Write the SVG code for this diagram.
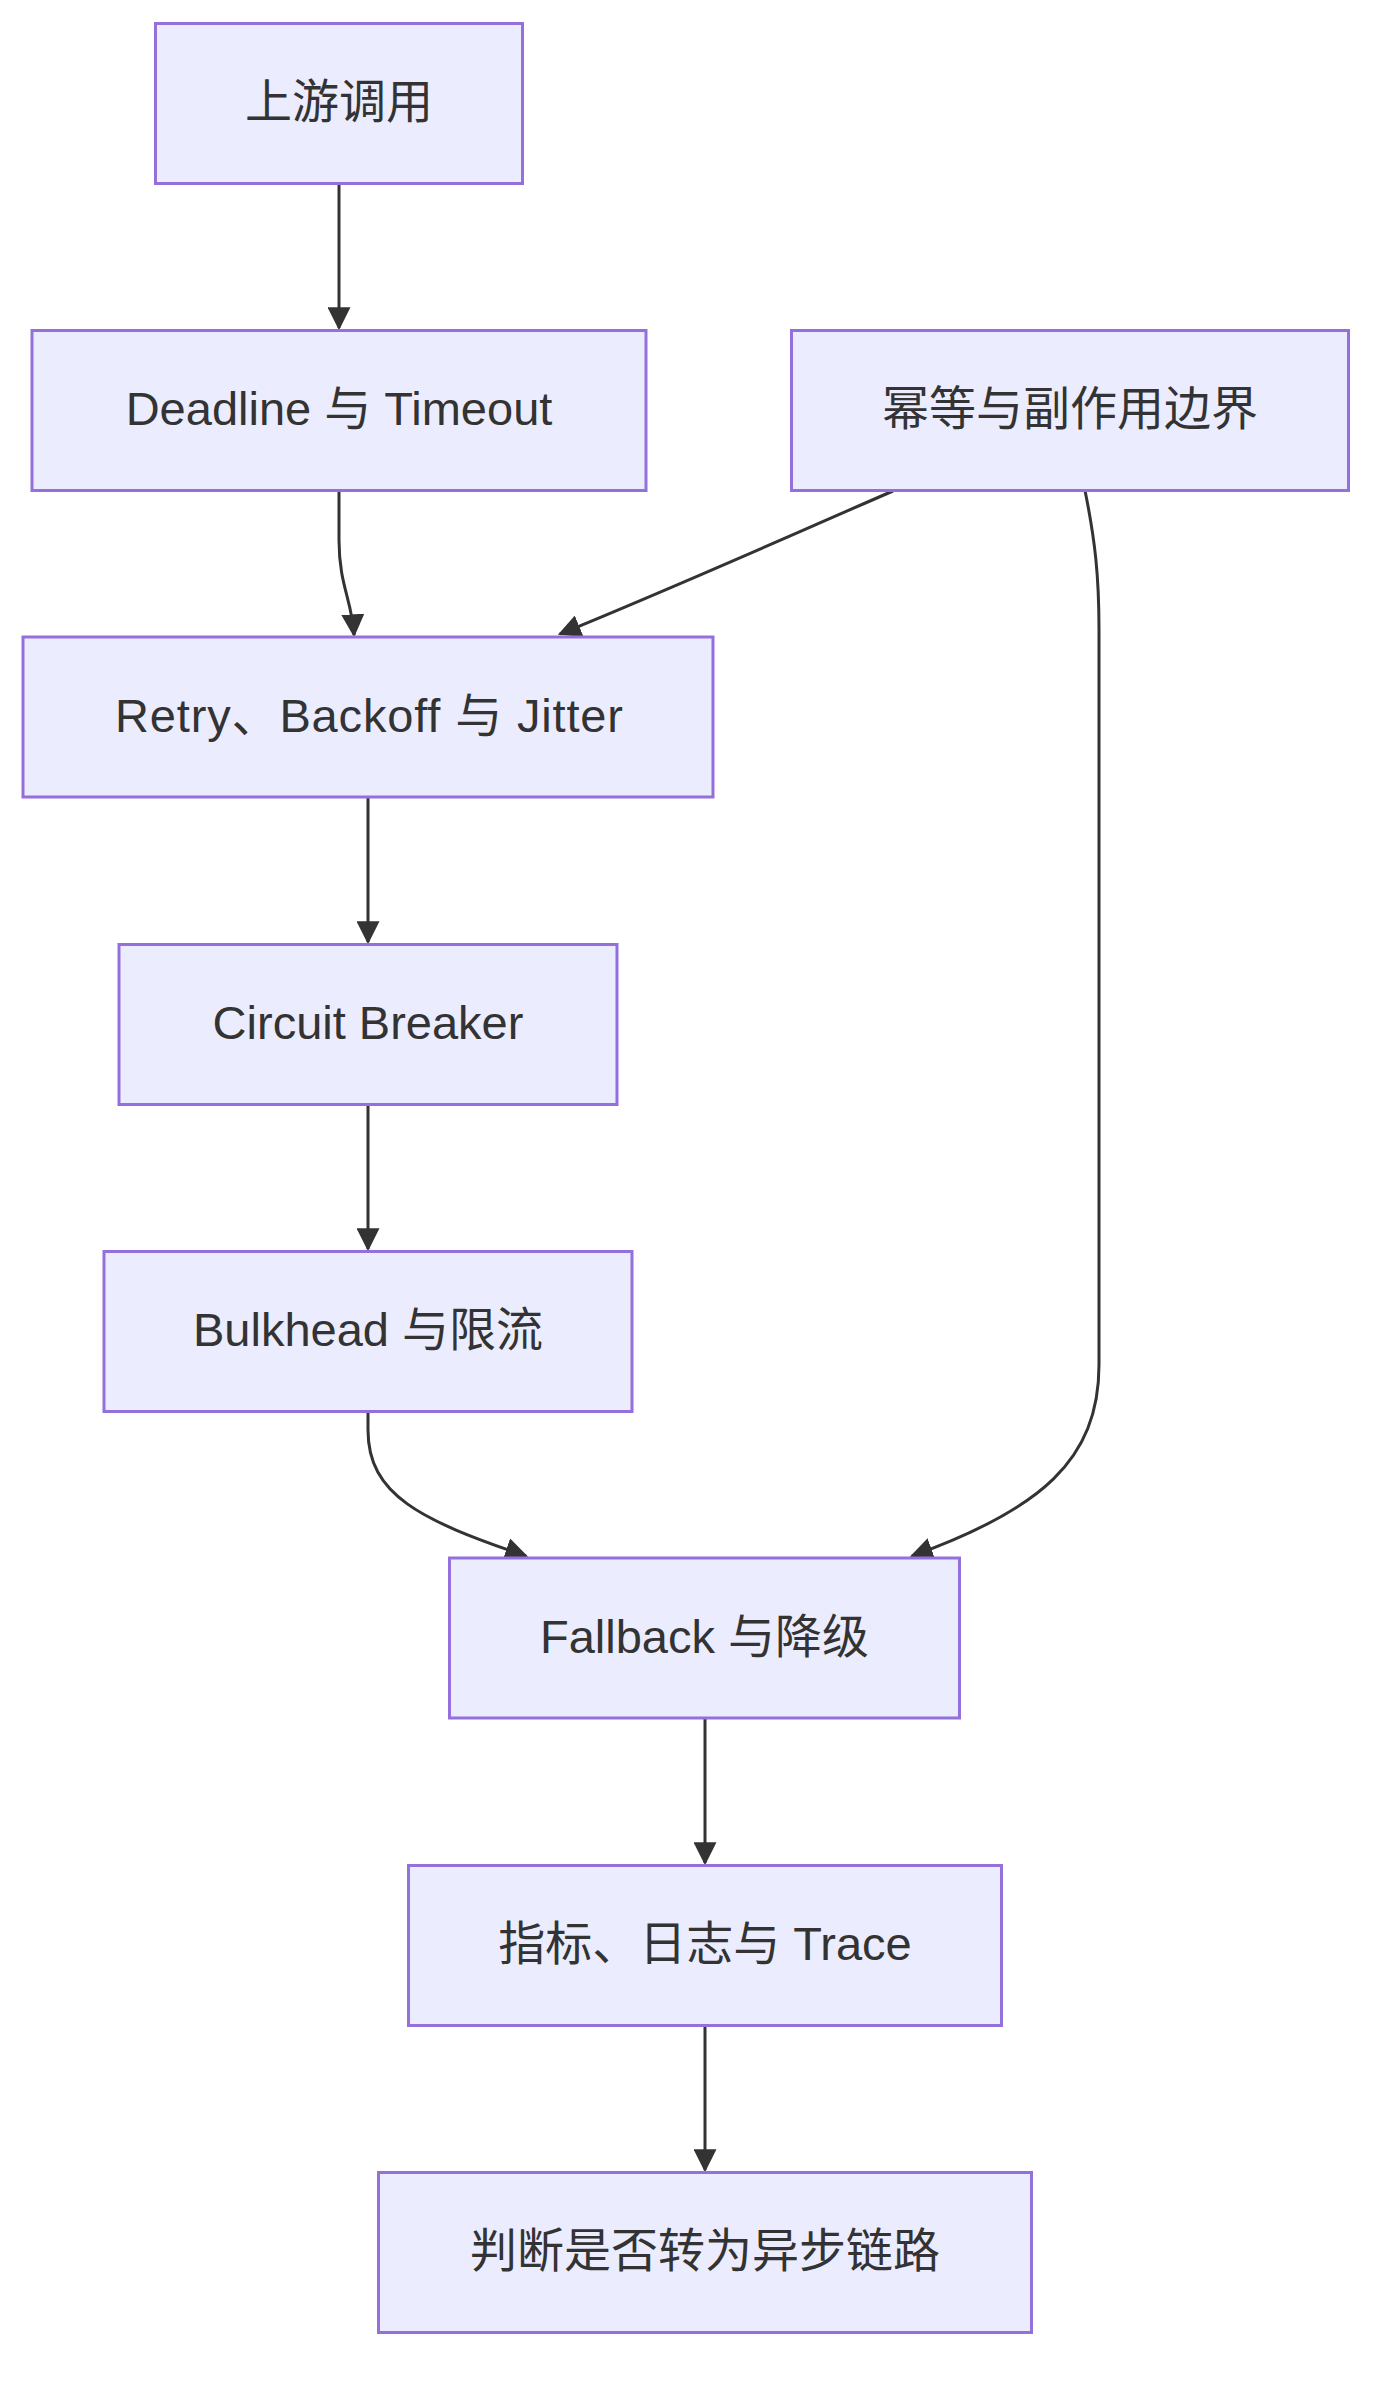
<svg xmlns="http://www.w3.org/2000/svg" width="1395" height="2394" viewBox="0 0 1395 2394">
  <style>
    .node rect { fill: #ECECFF; stroke: #9370DB; stroke-width: 3; }
    .node text { fill: #333333; font-family: "Liberation Sans", "Noto Sans CJK SC", sans-serif; font-size: 47px; text-anchor: middle; }
    .edge { fill: none; stroke: #333333; stroke-width: 3; marker-end: url(#arrow); }
  </style>
  <defs>
    <marker id="arrow" viewBox="0 0 10 10" refX="9" refY="5" markerWidth="23" markerHeight="23" markerUnits="userSpaceOnUse" orient="auto">
      <path d="M0,0 L10,5 L0,10 z" fill="#333333"/>
    </marker>
  </defs>
  <rect width="1395" height="2394" fill="#ffffff"/>
  <g id="connectors">
    <path class="edge" d="M339,183.5 L339,328"/>
    <path class="edge" d="M339,490.5 L339,540 C339,585 352,600 354,635"/>
    <path class="edge" d="M893,491 C780,540 680,585 560,634"/>
    <path class="edge" d="M368,797 L368,942"/>
    <path class="edge" d="M368,1104.5 L368,1249"/>
    <path class="edge" d="M368,1411.5 L368,1430 C368,1495 420,1520 526,1556"/>
    <path class="edge" d="M1085,490.5 C1095,540 1099,575 1099,630 L1099,1365 C1099,1460 1040,1510 912,1556"/>
    <path class="edge" d="M705,1718 L705,1863"/>
    <path class="edge" d="M705,2025.5 L705,2170"/>
  </g>
  <g id="n1" class="node">
    <rect x="155.5" y="23.5" width="367" height="160"/>
    <text x="339" y="118">上游调用</text>
  </g>
  <g id="n2" class="node">
    <rect x="32" y="330.5" width="614" height="160"/>
    <text x="339" y="425">Deadline 与 Timeout</text>
  </g>
  <g id="n3" class="node">
    <rect x="791.5" y="330.5" width="557" height="160"/>
    <text x="1070" y="425">幂等与副作用边界</text>
  </g>
  <g id="n4" class="node">
    <rect x="23" y="637" width="690" height="160"/>
    <text x="369" y="731.5" textLength="508" lengthAdjust="spacing">Retry、Backoff 与 Jitter</text>
  </g>
  <g id="n5" class="node">
    <rect x="119" y="944.5" width="498" height="160"/>
    <text x="368" y="1039">Circuit Breaker</text>
  </g>
  <g id="n6" class="node">
    <rect x="104" y="1251.5" width="528" height="160"/>
    <text x="368" y="1346">Bulkhead 与限流</text>
  </g>
  <g id="n7" class="node">
    <rect x="449.5" y="1558" width="510" height="160"/>
    <text x="704.5" y="1652.5">Fallback 与降级</text>
  </g>
  <g id="n8" class="node">
    <rect x="408.5" y="1865.5" width="593" height="160"/>
    <text x="705" y="1960">指标、日志与 Trace</text>
  </g>
  <g id="n9" class="node">
    <rect x="378.5" y="2172.5" width="653" height="160"/>
    <text x="705" y="2267">判断是否转为异步链路</text>
  </g>
</svg>
